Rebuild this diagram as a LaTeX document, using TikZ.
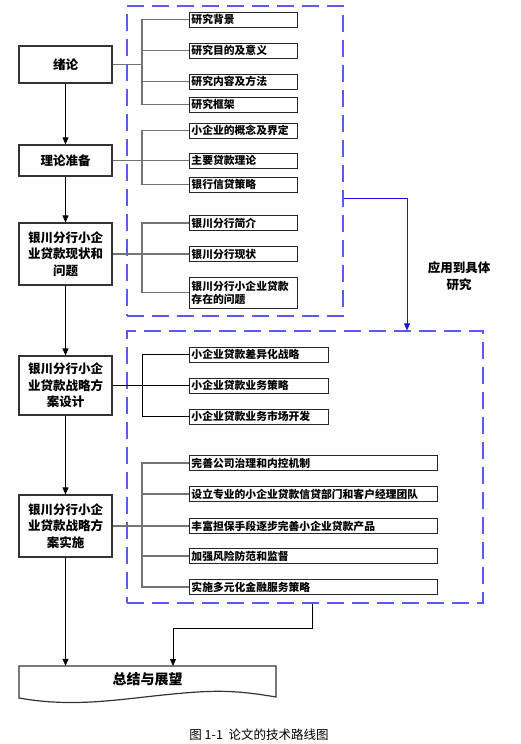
\documentclass[tikz,border=0pt]{standalone}
\usepackage{fontspec}
\setmainfont{Noto Sans CJK SC}
\usepackage{tikz}
\usetikzlibrary{arrows.meta,positioning}

\definecolor{groupblue}{RGB}{90,90,240}
\definecolor{linkblue}{RGB}{20,20,235}

\begin{document}
\begin{tikzpicture}[x=1pt,y=-1pt,>={Triangle[length=7pt,width=6pt]},
  main node/.style={draw=black!80,line width=1.2pt,fill=white,minimum width=93pt,inner sep=0pt,align=center,font=\bfseries\fontsize{12.5}{16.5}\selectfont},
  item node/.style={draw=black!85,line width=0.9pt,fill=white,anchor=west,minimum height=15pt,inner xsep=2pt,inner ysep=0pt,text width=#1,align=left,font=\bfseries\fontsize{10.8}{13}\selectfont},
  group/.style={draw=groupblue,line width=1.2pt,dash pattern=on 17pt off 8pt},
  branch/.style={draw=black!55,line width=1.2pt},
  chain/.style={->,color=black,line width=0.8pt}]
\useasboundingbox (0,0) rectangle (521,744);
%groups
  \node[group,minimum width=216pt,minimum height=310pt] (top) at (235,161) {};
  \node[group,minimum width=356pt,minimum height=272pt] (bot) at (305,467) {};
%1
  \node[main node,minimum height=37pt] (1) at (65.5,64.5) {绪论};
  \node[item node=104pt] (1a) at (189,19.5) {研究背景};
  \node[item node=104pt] (1b) at (189,50.5) {研究目的及意义};
  \node[item node=104pt] (1c) at (189,81.5) {研究内容及方法};
  \node[item node=104pt] (1d) at (189,104.5) {研究框架};
%2
  \node[main node,minimum height=31pt] (2) at (65.5,160.5) {理论准备};
  \node[item node=104pt] (2a) at (189,130.5) {小企业的概念及界定};
  \node[item node=104pt] (2b) at (189,160.5) {主要贷款理论};
  \node[item node=104pt] (2c) at (189,184.5) {银行信贷策略};
%3
  \node[main node,minimum height=62pt] (3) at (65.5,254) {银川分行小企\\业贷款现状和\\问题};
  \node[item node=104pt] (3a) at (189,223) {银川分行简介};
  \node[item node=104pt] (3b) at (189,254) {银川分行现状};
  \node[item node=104pt,minimum height=31pt] (3c) at (189,292.5) {银川分行小企业贷款\\存在的问题};
%4
  \node[main node,minimum height=59pt] (4) at (65.5,385.5) {银川分行小企\\业贷款战略方\\案设计};
  \node[item node=135pt] (4a) at (189,354.5) {小企业贷款差异化战略};
  \node[item node=135pt] (4b) at (189,385.5) {小企业贷款业务策略};
  \node[item node=135pt] (4c) at (189,416.5) {小企业贷款业务市场开发};
%5
  \node[main node,minimum height=62pt] (5) at (65.5,526) {银川分行小企\\业贷款战略方\\案实施};
  \node[item node=244pt] (5a) at (189,463) {完善公司治理和内控机制};
  \node[item node=244pt] (5b) at (189,494) {设立专业的小企业贷款信贷部门和客户经理团队};
  \node[item node=244pt] (5c) at (189,526) {丰富担保手段逐步完善小企业贷款产品};
  \node[item node=244pt] (5d) at (189,556) {加强风险防范和监督};
  \node[item node=244pt] (5e) at (189,587) {实施多元化金融服务策略};
%6
  \draw[line width=1.2pt,draw=black!80] (19,666) -- (276,666) -- (276,697)
    .. controls (235,690) and (215,690) .. (173,694)
    .. controls (120,699) and (75,708) .. (19,698) -- cycle;
  \node[minimum width=257pt,minimum height=26pt,inner sep=0pt,font=\bfseries\fontsize{14}{16}\selectfont] (6) at (147.5,679) {总结与展望};
%text
  \node[align=center,font=\bfseries\fontsize{12.5}{17}\selectfont] (apply text) at (459,276) {应用到具体\\研究};
  \node[font=\fontsize{12.5}{14}\selectfont] (caption) at (259,735) {图 1-1\ \ 论文的技术路线图};
%paths
  \draw[branch] (1a.west) -- ++(-47,0) |- (1d.west)
    (1b.west) -- ++(-47,0) (1c.west) -- ++(-47,0) (1.east) -- ++(30,0);
  \draw[branch] (2a.west) -- ++(-47,0) |- (2c.west) (2.east) -- (2b.west);
  \draw[branch] (3a.west) -- ++(-47,0) |- (3c.west) (3.east) -- (3b.west);
  \draw[line width=0.8pt] (4a.west) -- ++(-47,0) |- (4c.west) (4.east) -- (4b.west);
  \draw[branch] (5a.west) -- ++(-47,0) |- (5e.west)
    (5b.west) -- ++(-47,0) (5d.west) -- ++(-47,0) (5.east) -- (5c.west);
  \path[chain]
    (1) edge (2)
    (2) edge (3)
    (3) edge (4)
    (4) edge (5)
    (5.south) edge (5.south |- 6.north);
%apply
  \coordinate (apply) at ([yshift=-37pt]top.east);
  \coordinate (turn) at (407,198);
  \draw[->,draw=linkblue,line width=1pt] (apply) -- (turn) -- (turn |- bot.north);
  \coordinate (out) at ([xshift=7pt]bot.south);
  \coordinate (in) at (173,666);
  \draw[chain] (out) -- ++(0,25) -| (in);
\end{tikzpicture}
\end{document}
